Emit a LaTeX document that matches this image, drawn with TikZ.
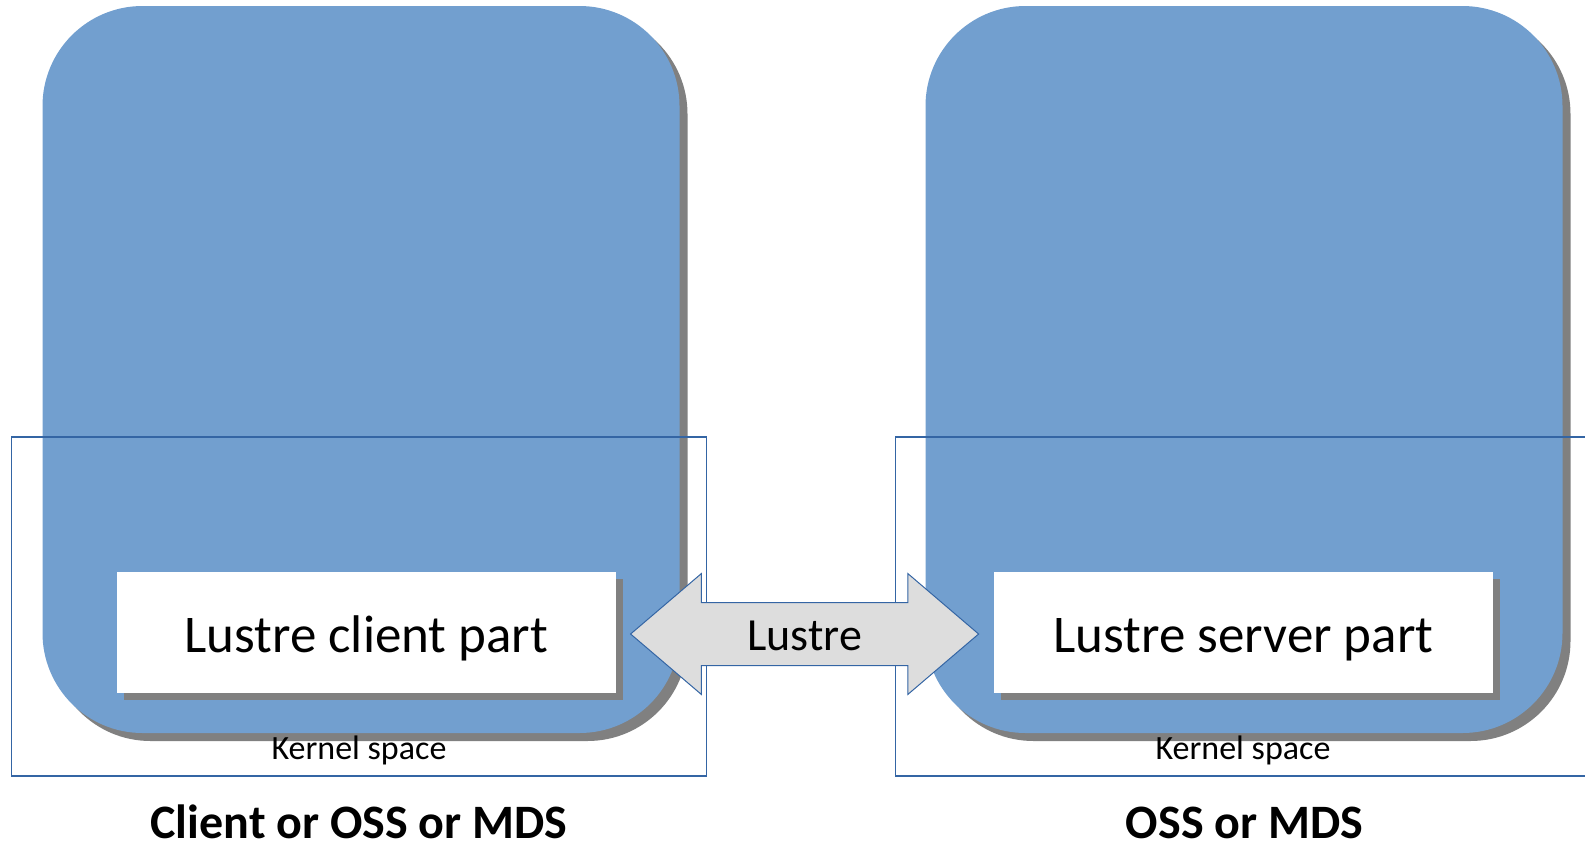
\documentclass[tikz,border=0pt]{standalone}
\usepackage{fontspec}
\setmainfont{Carlito}
\usetikzlibrary{shapes.arrows,shadows}

\definecolor{hostblue}{HTML}{729FCF}
\definecolor{lineblue}{HTML}{3465A4}
\definecolor{shadowgray}{HTML}{808080}
\definecolor{arrowgray}{HTML}{DDDDDD}

\begin{document}
\begin{tikzpicture}[x=1pt,y=-1pt,
	host/.style={fill=hostblue, rounded corners=100pt, minimum width=637pt, minimum height=727pt, inner sep=0pt,
		drop shadow={shadow xshift=8pt, shadow yshift=-8pt, fill=shadowgray, opacity=1}},
	kernel/.style={draw=lineblue, line width=1.2pt, minimum width=695pt, minimum height=339pt, inner sep=0pt},
	part/.style={fill=white, minimum width=499pt, minimum height=121pt, inner sep=0pt,
		drop shadow={shadow xshift=7pt, shadow yshift=-7pt, fill=shadowgray, opacity=1}},
	partlabel/.style={anchor=base, font=\fontsize{53}{60}\selectfont},
	label/.style={anchor=base, font=\fontsize{34}{40}\selectfont},
	title/.style={anchor=base, font=\fontsize{48}{56}\selectfont\bfseries}]
	\useasboundingbox (0,0) rectangle (1585,844);

	\node[host] (lhost) at (361,369.5) {};
	\node[host] (rhost) at (1244,369.5) {};

	\node[kernel] (lkernel) at (358.75,606.5) {};
	\node[kernel] (rkernel) at (1243.25,606.5) {};
	\node[label] (lklab) at (359,759) {Kernel space};
	\node[label] (rklab) at (1243,759) {Kernel space};

	\node[part] (lpart) at (366.3,632.75) {};
	\node[part] (rpart) at (1243.3,632.75) {};
	\node[partlabel] (lptext) at (366.3,652) {Lustre client part};
	\node[partlabel] (rptext) at (1243.3,652) {Lustre server part};

	\node[double arrow, draw=lineblue, fill=arrowgray, line width=1pt,
		minimum height=348pt, minimum width=119pt, double arrow head extend=29pt,
		double arrow tip angle=81, inner sep=0pt, text height=46pt, text depth=16pt] (link) at (804.6,634) {};
	\node[anchor=base, font=\fontsize{46}{52}\selectfont] (linktext) at (804.6,650) {Lustre};

	\node[title] (lname) at (359,838) {Client or OSS or MDS};
	\node[title] (rname) at (1244.6,838) {OSS or MDS};
\end{tikzpicture}
\end{document}
